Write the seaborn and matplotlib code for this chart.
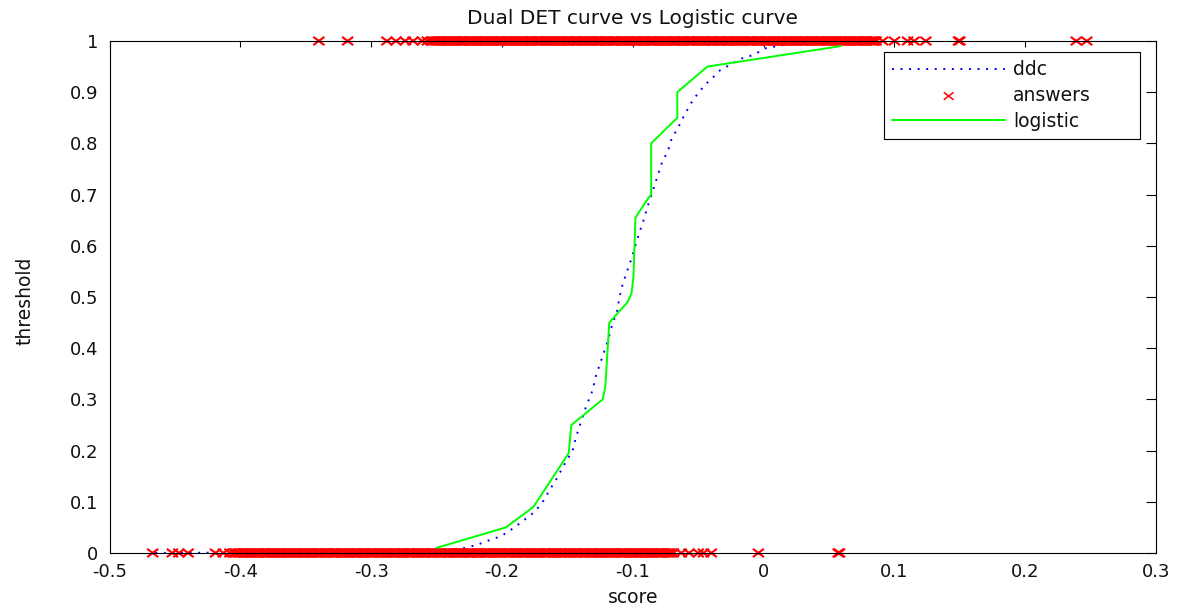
import numpy as np
import pandas as pd
import matplotlib
matplotlib.use("Agg")
import matplotlib.pyplot as plt
from matplotlib.path import Path
import seaborn as sns

# ---- data -------------------------------------------------------------
# dual DET curve (score vs threshold)
ddc_score = [-0.465, -0.25, -0.238, -0.228, -0.219, -0.2096, -0.2005, -0.191,
             -0.184, -0.1765, -0.171, -0.167, -0.164, -0.160, -0.153, -0.146,
             -0.1436, -0.140, -0.136, -0.134, -0.1304, -0.1288, -0.125, -0.121,
             -0.119, -0.116, -0.112, -0.1105, -0.1087, -0.105, -0.101, -0.099,
             -0.0957, -0.0918, -0.0883, -0.0845, -0.0809, -0.077, -0.0735,
             -0.070, -0.0663, -0.0607, -0.054, -0.0497, -0.045, -0.0386,
             -0.0332, -0.0166, -0.0077, 0.0018, 0.0107, 0.030, 0.085]
ddc_threshold = [0.0, 0.003, 0.007, 0.010, 0.016, 0.025, 0.033, 0.049,
                 0.0625, 0.0775, 0.092, 0.107, 0.122, 0.137, 0.170, 0.200,
                 0.225, 0.253, 0.284, 0.297, 0.320, 0.341, 0.370, 0.400,
                 0.415, 0.444, 0.473, 0.495, 0.517, 0.546, 0.575, 0.592,
                 0.620, 0.650, 0.680, 0.709, 0.738, 0.768, 0.782,
                 0.812, 0.826, 0.855, 0.885, 0.899, 0.914, 0.929,
                 0.943, 0.966, 0.973, 0.986, 0.990, 1.0, 1.0]

# fitted logistic curve
logistic_score = [-0.250, -0.197, -0.176, -0.149, -0.147, -0.123, -0.121,
                  -0.118, -0.104, -0.101, -0.0995, -0.098, -0.089, -0.086,
                  -0.086, -0.066, -0.066, -0.043, 0.059]
logistic_threshold = [0.01, 0.05, 0.09, 0.195, 0.25, 0.30, 0.325,
                      0.45, 0.49, 0.507, 0.54, 0.655, 0.69, 0.70,
                      0.80, 0.85, 0.90, 0.95, 0.99]

# answers: non-target trial scores (label 0)
nontarget_scores = [
    -0.467, -0.452, -0.447, -0.440, -0.419, -0.413, -0.408,
    -0.405, -0.403, -0.400, -0.398, -0.396, -0.393, -0.391, -0.388, -0.386, -0.383,
    -0.381, -0.379, -0.376, -0.374, -0.371, -0.369, -0.367, -0.364, -0.362, -0.359,
    -0.357, -0.354, -0.352, -0.350, -0.347, -0.345, -0.342, -0.340, -0.338, -0.335,
    -0.333, -0.330, -0.328, -0.326, -0.323, -0.321, -0.318, -0.316, -0.313, -0.311,
    -0.309, -0.306, -0.304, -0.301, -0.299, -0.297, -0.294, -0.292, -0.289, -0.287,
    -0.284, -0.282, -0.280, -0.277, -0.275, -0.272, -0.270, -0.268, -0.265, -0.263,
    -0.260, -0.258, -0.255, -0.253, -0.251, -0.248, -0.246, -0.243, -0.241, -0.239,
    -0.236, -0.234, -0.231, -0.229, -0.226, -0.224, -0.222, -0.219, -0.217, -0.214,
    -0.212, -0.210, -0.207, -0.205, -0.202, -0.200, -0.197, -0.195, -0.193, -0.190,
    -0.188, -0.185, -0.183, -0.181, -0.178, -0.176, -0.173, -0.171, -0.168, -0.166,
    -0.164, -0.161, -0.159, -0.156, -0.154, -0.152, -0.149, -0.147, -0.144, -0.142,
    -0.139, -0.137, -0.135, -0.132, -0.130, -0.127, -0.125, -0.123, -0.120, -0.118,
    -0.115, -0.113, -0.110, -0.108, -0.106, -0.103, -0.101, -0.098, -0.096, -0.094,
    -0.091, -0.089, -0.086, -0.084, -0.081, -0.079, -0.077, -0.074, -0.072, -0.069,
    -0.063, -0.057, -0.050, -0.046, -0.040, -0.004, 0.057, 0.058,
    -0.404, -0.4015, -0.399, -0.397, -0.3945, -0.392, -0.3895, -0.387, -0.3845,
    -0.382, -0.380, -0.3775, -0.375, -0.3725, -0.370, -0.368, -0.3655, -0.363,
    -0.3605, -0.358, -0.3555, -0.353, -0.351, -0.3485, -0.346, -0.3435, -0.341,
    -0.339, -0.3365, -0.334, -0.3315, -0.329, -0.327, -0.3245, -0.322, -0.3195,
    -0.317, -0.3145, -0.312, -0.310, -0.3075, -0.305, -0.3025, -0.300, -0.298,
    -0.2955, -0.293, -0.2905, -0.288, -0.2855, -0.283, -0.281, -0.2785, -0.276,
    -0.2735, -0.271, -0.269, -0.2665, -0.264, -0.2615, -0.259, -0.2565, -0.254,
    -0.252, -0.2495, -0.247, -0.2445, -0.242, -0.240, -0.2375, -0.235, -0.2325,
    -0.230, -0.2275, -0.225, -0.223, -0.2205, -0.218, -0.2155, -0.213, -0.211,
    -0.2085, -0.206, -0.2035, -0.201, -0.1985, -0.196, -0.194, -0.1915, -0.189,
    -0.1865, -0.184, -0.182, -0.1795, -0.177, -0.1745, -0.172, -0.1695, -0.167,
    -0.165, -0.1625, -0.160, -0.1575, -0.155, -0.153, -0.1505, -0.148, -0.1455,
    -0.143, -0.1405, -0.138, -0.136, -0.1335, -0.131, -0.1285, -0.126, -0.124,
    -0.1215, -0.119, -0.1165, -0.114, -0.1115, -0.109, -0.107, -0.1045, -0.102,
    -0.0995, -0.097, -0.095, -0.0925, -0.090, -0.0875, -0.085, -0.0825, -0.080,
    -0.078, -0.0755, -0.073, -0.0705]

# answers: target trial scores (label 1)
target_scores = [
    -0.340, -0.318, -0.288, -0.281, -0.274, -0.268, -0.261, -0.257,
    -0.254, -0.252, -0.249, -0.247, -0.244, -0.242, -0.240, -0.237, -0.235, -0.232,
    -0.230, -0.228, -0.225, -0.223, -0.220, -0.218, -0.215, -0.213, -0.211, -0.208,
    -0.206, -0.203, -0.201, -0.199, -0.196, -0.194, -0.191, -0.189, -0.186, -0.184,
    -0.182, -0.179, -0.177, -0.174, -0.172, -0.170, -0.167, -0.165, -0.162, -0.160,
    -0.157, -0.155, -0.153, -0.150, -0.148, -0.145, -0.143, -0.141, -0.138, -0.136,
    -0.133, -0.131, -0.128, -0.126, -0.124, -0.121, -0.119, -0.116, -0.114, -0.112,
    -0.109, -0.107, -0.104, -0.102, -0.099, -0.097, -0.095, -0.092, -0.090, -0.087,
    -0.085, -0.083, -0.080, -0.078, -0.075, -0.073, -0.070, -0.068, -0.066, -0.063,
    -0.061, -0.058, -0.056, -0.054, -0.051, -0.049, -0.046, -0.044, -0.041, -0.039,
    -0.037, -0.034, -0.032, -0.029, -0.027, -0.025, -0.022, -0.020, -0.017, -0.015,
    -0.012, -0.010, -0.008, -0.005, -0.003, 0.000, 0.002, 0.004, 0.007, 0.009,
    0.012, 0.014, 0.016, 0.019, 0.021, 0.024, 0.026, 0.029, 0.031, 0.033,
    0.036, 0.038, 0.041, 0.043, 0.045, 0.048, 0.050, 0.053, 0.055, 0.058,
    0.060, 0.062, 0.065, 0.067, 0.070, 0.072, 0.074, 0.077, 0.079, 0.082,
    0.084, 0.086, 0.091, 0.100, 0.110, 0.115, 0.124, 0.149, 0.150, 0.239, 0.247,
    -0.253, -0.2505, -0.248, -0.2455, -0.243, -0.241, -0.2385, -0.236, -0.2335,
    -0.231, -0.229, -0.2265, -0.224, -0.2215, -0.219, -0.2165, -0.214, -0.212,
    -0.2095, -0.207, -0.2045, -0.202, -0.200, -0.1975, -0.195, -0.1925, -0.190,
    -0.1875, -0.185, -0.183, -0.1805, -0.178, -0.1755, -0.173, -0.171, -0.1685,
    -0.166, -0.1635, -0.161, -0.1585, -0.156, -0.154, -0.1515, -0.149, -0.1465,
    -0.144, -0.142, -0.1395, -0.137, -0.1345, -0.132, -0.1295, -0.127, -0.125,
    -0.1225, -0.120, -0.1175, -0.115, -0.113, -0.1105, -0.108, -0.1055, -0.103,
    -0.1005, -0.098, -0.096, -0.0935, -0.091, -0.0885, -0.086, -0.084, -0.0815,
    -0.079, -0.0765, -0.074, -0.0715, -0.069, -0.067, -0.0645, -0.062, -0.0595,
    -0.057, -0.055, -0.0525, -0.050, -0.0475, -0.045, -0.0425, -0.040, -0.038,
    -0.0355, -0.033, -0.0305, -0.028, -0.026, -0.0235, -0.021, -0.0185, -0.016,
    -0.0135, -0.011, -0.009, -0.0065, -0.004, -0.0015, 0.001, 0.003, 0.0055,
    0.008, 0.0105, 0.013, 0.015, 0.0175, 0.020, 0.0225, 0.025, 0.0275, 0.030,
    0.032, 0.0345, 0.037, 0.0395, 0.042, 0.044, 0.0465, 0.049, 0.0515, 0.054,
    0.0565, 0.059, 0.061, 0.0635, 0.066, 0.0685, 0.071, 0.073, 0.0755, 0.078,
    0.0805, 0.083, 0.085]

x_ticks = [-0.5, -0.4, -0.3, -0.2, -0.1, 0.0, 0.1, 0.2, 0.3]
x_tick_labels = ["-0.5", "-0.4", "-0.3", "-0.2", "-0.1", "0", "0.1", "0.2", "0.3"]
y_ticks = [0.0, 0.1, 0.2, 0.3, 0.4, 0.5, 0.6, 0.7, 0.8, 0.9, 1.0]
y_tick_labels = ["0", "0.1", "0.2", "0.3", "0.4", "0.5", "0.6", "0.7", "0.8", "0.9", "1"]

answers = pd.DataFrame({
    "score": nontarget_scores + target_scores,
    "threshold": [0.0] * len(nontarget_scores) + [1.0] * len(target_scores),
})

# a slightly wide cross marker
wide_x = Path([(-1.0, -0.75), (1.0, 0.75), (-1.0, 0.75), (1.0, -0.75)],
              [Path.MOVETO, Path.LINETO, Path.MOVETO, Path.LINETO])

# ---- style ------------------------------------------------------------
sns.set_theme(style="white")
plt.rcParams["font.family"] = ["DejaVu Sans"]
plt.rcParams["axes.unicode_minus"] = False

fig = plt.figure(figsize=(11.78, 6.09), dpi=100)
ax = fig.add_axes([0.093, 0.092, 0.8884, 0.8407])

sns.lineplot(x=ddc_score, y=ddc_threshold, ax=ax, sort=False,
             estimator=None, color="#0000FF", linewidth=1.4,
             clip_on=False, zorder=2)
ddc_handle = ax.lines[-1]
ddc_handle.set_linestyle((0, (1, 3.4)))

sns.scatterplot(data=answers, x="score", y="threshold", ax=ax, marker=wide_x,
                s=64, linewidth=1.5, edgecolor="#FF0000", facecolor="none",
                clip_on=False, zorder=2)
answers_handle = ax.collections[-1]
answers_handle.set_edgecolor("#FF0000")
answers_handle.set_facecolor("none")

sns.lineplot(x=logistic_score, y=logistic_threshold, ax=ax, sort=False,
             estimator=None, color="#00FF00", linewidth=1.4, clip_on=False,
             zorder=2)
logistic_handle = ax.lines[-1]

ax.set_xlim(-0.5, 0.3)
ax.set_ylim(0, 1)
ax.set_xticks(x_ticks)
ax.set_xticklabels(x_tick_labels)
ax.set_yticks(y_ticks)
ax.set_yticklabels(y_tick_labels)

for sp in ax.spines.values():
    sp.set_visible(True)
    sp.set_color("black")
    sp.set_linewidth(0.8)
    sp.set_zorder(3)

ax.tick_params(axis="both", direction="in", top=True, right=True,
               colors="black", labelcolor="#111111", labelsize=13, width=0.8)
ax.tick_params(axis="x", length=4.3, pad=7)
ax.tick_params(axis="y", length=7.2, pad=8)

ax.set_xlabel("score", fontsize=13.5, color="#111111", va="center")
ax.xaxis.set_label_coords(0.5, -0.086)
ax.set_ylabel("threshold", fontsize=13.5, color="#111111", va="center")
ax.yaxis.set_label_coords(-0.0807, 0.492)
ax.set_title("Dual DET curve vs Logistic curve", fontsize=14.5,
             color="#111111", y=1.043, va="center", pad=0)

leg = ax.legend([ddc_handle, answers_handle, logistic_handle],
                ["ddc", "answers", "logistic"],
                loc="upper left", bbox_to_anchor=(0.740, 0.803, 0.245, 0.1755),
                mode="expand", borderaxespad=0, frameon=True, fancybox=False,
                edgecolor="black", framealpha=1, fontsize=13.5,
                handlelength=6.0, handletextpad=0.45, borderpad=0.45,
                labelspacing=0.35)
leg.get_frame().set_linewidth(0.8)
for t in leg.get_texts():
    t.set_color("#111111")
leg.legend_handles[1].set_linewidth(1.1)
leg.legend_handles[1].set_sizes([50])

fig.savefig("out.png", dpi=100)
